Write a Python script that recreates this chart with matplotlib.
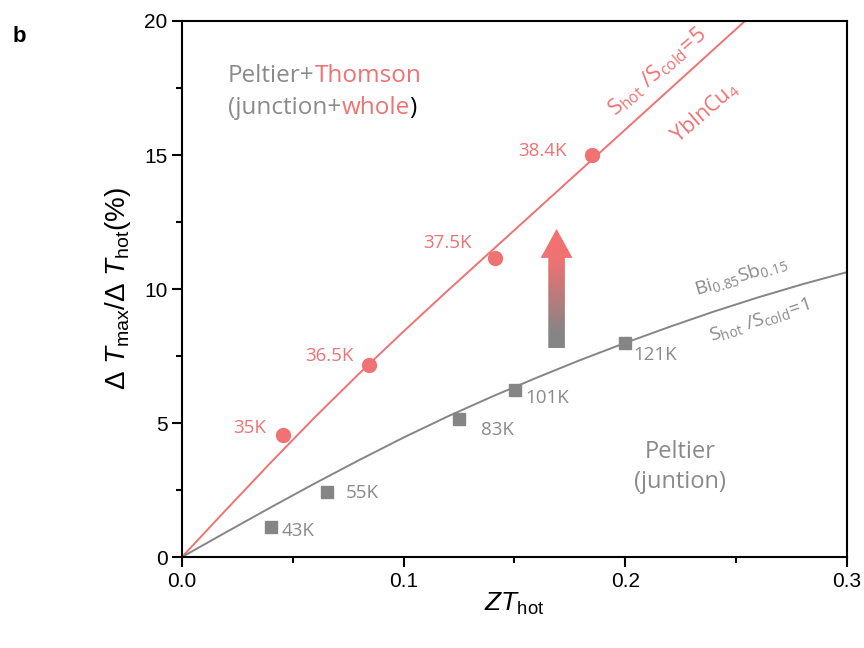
import numpy as np
import matplotlib
matplotlib.use("Agg")
import matplotlib.pyplot as plt
from matplotlib.path import Path
from matplotlib.patches import PathPatch
from matplotlib.colors import LinearSegmentedColormap
from matplotlib.offsetbox import TextArea, HPacker, VPacker, AnnotationBbox

# curva YbInCu4 (S_hot/S_cold=5)
zt_rojo = [0.0, 0.02, 0.04, 0.06, 0.08, 0.10, 0.12, 0.14, 0.16, 0.18, 0.20, 0.22, 0.24, 0.26]
dt_rojo = [0.0, 1.77, 3.52, 5.22, 6.85, 8.42, 9.95, 11.45, 12.95, 14.45, 15.95, 17.45, 18.95, 20.45]

# curva Bi0.85Sb0.15 (S_hot/S_cold=1)
zt_gris = [0.0, 0.02, 0.04, 0.06, 0.08, 0.10, 0.12, 0.14, 0.16, 0.18, 0.20, 0.22, 0.24, 0.26, 0.28, 0.30]
dt_gris = [0.0, 0.93, 1.85, 2.75, 3.62, 4.46, 5.25, 5.99, 6.69, 7.36, 7.99, 8.59, 9.16, 9.69, 10.18, 10.63]

# puntos medidos
pts_rojo_x = [0.0457, 0.0845, 0.1411, 0.1851]
pts_rojo_y = [4.55, 7.15, 11.17, 14.99]
etq_rojo = ["35K", "36.5K", "37.5K", "38.4K"]

pts_gris_x = [0.040, 0.0654, 0.1251, 0.1501, 0.2000]
pts_gris_y = [1.11, 2.41, 5.14, 6.23, 7.97]
etq_gris = ["43K", "55K", "83K", "101K", "121K"]

ROJO = "#f07272"
GRIS = "#858585"
GRIS_T = "#8a8a8a"

plt.rcParams['mathtext.fontset'] = 'custom'
plt.rcParams['mathtext.rm'] = 'Liberation Sans'
plt.rcParams['mathtext.it'] = 'Liberation Sans:italic'
plt.rcParams['mathtext.sf'] = 'Open Sans'
plt.rcParams['font.family'] = 'Liberation Sans'

fig = plt.figure(figsize=(8.64, 6.48), dpi=100)
ax = fig.add_axes([0.2106, 0.1404, 0.7697, 0.8272])

ax.plot(zt_rojo, dt_rojo, color=ROJO, lw=1.4, zorder=2)
ax.plot(zt_gris, dt_gris, color=GRIS, lw=1.4, zorder=2)
ax.plot(pts_rojo_x, pts_rojo_y, "o", color=ROJO, ms=10, zorder=3)
ax.plot(pts_gris_x, pts_gris_y, "s", color=GRIS, ms=8.5, zorder=3)

# desplazamientos de las etiquetas (pixeles)
off_rojo = [(-34, 7), (-40, 9), (-47, 15), (-50, 4)]
off_gris = [(27, -4), (35, -1), (38, -11), (32, -8), (30, -12)]
ft = dict(family="Open Sans", fontsize=13.5)
for x, y, s, o in zip(pts_rojo_x, pts_rojo_y, etq_rojo, off_rojo):
    ax.annotate(s, (x, y), xytext=o, textcoords="offset pixels",
                ha="center", va="center", color=ROJO, **ft)
for x, y, s, o in zip(pts_gris_x, pts_gris_y, etq_gris, off_gris):
    ax.annotate(s, (x, y), xytext=o, textcoords="offset pixels",
                ha="center", va="center", color=GRIS_T, **ft)

# textos inclinados
ft2 = dict(ha="center", va="center", rotation_mode="anchor")
ax.text(0.2147, 18.1, r"$\mathsf{S_{hot}\ /S_{cold}\!=\!5}$", color=ROJO, rotation=41,
        fontsize=16, **ft2)
ax.text(0.2359, 16.6, r"$\mathsf{YbInCu_4}$", color=ROJO, rotation=41, fontsize=15.5, **ft2)
ax.text(0.2522, 10.49, r"$\mathsf{Bi_{0.85}Sb_{0.15}}$", color=GRIS_T, rotation=17,
        fontsize=14, **ft2)
ax.text(0.2607, 8.84, r"$\mathsf{S_{hot}\ /S_{cold}\!=\!1}$", color=GRIS_T, rotation=18,
        fontsize=14, **ft2)

ax.text(0.2247, 3.36, "Peltier\n(juntion)", color=GRIS_T, family="Open Sans",
        fontsize=17, ha="center", va="center", linespacing=1.3)

# texto en varios colores
def linea(partes):
    cajas = [TextArea(s, textprops=dict(color=c, family="Open Sans", fontsize=17.5))
             for s, c in partes]
    return HPacker(children=cajas, align="baseline", pad=0, sep=0)

bloque = VPacker(children=[linea([("Peltier+", GRIS_T), ("Thomson", ROJO)]),
                           linea([("(junction+", GRIS_T), ("whole", ROJO), (")", "black")])],
                 align="left", pad=0, sep=6)
ab = AnnotationBbox(bloque, (0.0208, 17.35), box_alignment=(0, 0.5), frameon=False)
ax.add_artist(ab)

# flecha con degradado
xc, hs, hh = 0.169, 0.00375, 0.0072
y0, yb, yt = 7.8, 11.16, 12.24
verts = [(xc - hs, y0), (xc + hs, y0), (xc + hs, yb), (xc + hh, yb), (xc, yt),
         (xc - hh, yb), (xc - hs, yb), (xc - hs, y0), (xc - hs, y0)]
codes = [Path.MOVETO] + [Path.LINETO] * 7 + [Path.CLOSEPOLY]
flecha = PathPatch(Path(verts, codes), facecolor="none", edgecolor="none")
ax.add_patch(flecha)
cmap = LinearSegmentedColormap.from_list("fl", [(0, GRIS), (0.12, GRIS), (0.75, ROJO), (1, ROJO)])
grad = np.linspace(0, 1, 256).reshape(-1, 1)
im = ax.imshow(grad, cmap=cmap, origin="lower", aspect="auto",
               extent=[xc - hh, xc + hh, y0, yt], zorder=2)
im.set_clip_path(flecha)

ax.set_xlim(0, 0.3)
ax.set_ylim(0, 20)
ax.set_xticks([0.0, 0.1, 0.2, 0.3])
ax.set_xticklabels(["0.0", "0.1", "0.2", "0.3"])
ax.set_yticks([0, 5, 10, 15, 20])
ax.set_xticks([0.05, 0.15, 0.25], minor=True)
ax.set_yticks([2.5, 7.5, 12.5, 17.5], minor=True)
ax.tick_params(which="both", direction="out", width=1.5, labelsize=15, top=False, right=False)
ax.tick_params(which="major", length=7)
ax.tick_params(which="minor", length=4)
for sp in ax.spines.values():
    sp.set_linewidth(1.5)

ax.set_xlabel(r"$ZT_{\rm hot}$", fontsize=19, labelpad=0)
ax.set_ylabel(r"$\Delta\ T_{\rm max}/\Delta\ T_{\rm hot}$(%)", fontsize=20, labelpad=8)

fig.text(0.014, 0.935, "b", fontsize=16, fontweight="bold")

fig.savefig("out.png", dpi=100)
